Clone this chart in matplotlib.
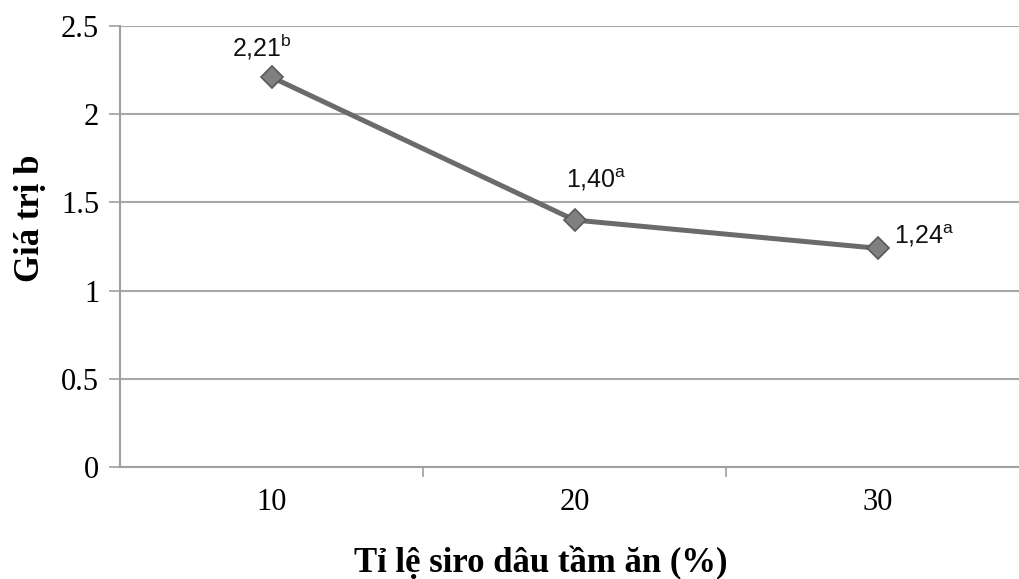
import matplotlib
matplotlib.use("Agg")
import matplotlib.pyplot as plt
from matplotlib.ticker import FixedLocator

categories = ["10", "20", "30"]
values = [2.21, 1.40, 1.24]
point_labels = ["2,21", "1,40", "1,24"]
letters = ["b", "a", "a"]
yticks = [0, 0.5, 1, 1.5, 2, 2.5]
ytick_labels = ["0", "0.5", "1", "1.5", "2", "2.5"]

plt.rcParams['mathtext.fontset'] = 'custom'
plt.rcParams['mathtext.rm'] = 'Liberation Sans'

fig = plt.figure(figsize=(10.19, 5.79), dpi=100)
ax = fig.add_axes([120/1019, 112/579, 909/1019, 441/579])

x = list(range(len(categories)))
ax.plot(x, values, color='#6b6b6b', lw=3.6, marker='D', markersize=11,
        markerfacecolor='#808080', markeredgecolor='#5a5a5a', markeredgewidth=1.2,
        zorder=3)

ax.set_xlim(-0.5, 2.5)
ax.set_ylim(0, 2.5)
ax.set_yticks(yticks)
ax.set_yticklabels(ytick_labels)
ax.set_xticks(x)
ax.set_xticklabels(categories)
ax.xaxis.set_minor_locator(FixedLocator([0.5, 1.5]))

for lab in ax.get_xticklabels() + ax.get_yticklabels():
    lab.set_fontfamily('Liberation Serif')
    lab.set_fontsize(22)
    lab.set_color('black')

ax.tick_params(axis='x', which='major', length=0, pad=15)
ax.tick_params(axis='x', which='minor', length=7, width=1.2, color='#a0a0a0', direction='out')
ax.tick_params(axis='y', which='major', length=8, width=1.2, color='#a0a0a0', pad=7, direction='out')

ax.grid(axis='y', color='#a8a8a8', lw=1.5)
ax.set_axisbelow(True)
for s in ['top', 'right']:
    ax.spines[s].set_visible(False)
ax.spines['left'].set_color('#a0a0a0')
ax.spines['left'].set_linewidth(1.5)
ax.spines['bottom'].set_color('#a0a0a0')
ax.spines['bottom'].set_linewidth(1.5)

offsets = [(-40, 21), (-9, 33), (17, 5)]
for xi, v, t, l, off in zip(x, values, point_labels, letters, offsets):
    ax.annotate(t + r"$^{\mathrm{" + l + "}}$", (xi, v), xytext=off, textcoords='offset pixels',
                ha='left', va='baseline', fontsize=18, fontfamily='Liberation Sans', color='#111111')

fig.text(541/1019, 1 - 563/579, "Tỉ lệ siro dâu tầm ăn (%)", ha='center', va='center',
         fontsize=25, fontweight='bold', fontfamily='Liberation Serif')
fig.text(30/1019, 1 - 218/579, "Giá trị b", ha='center', va='center', rotation=90,
         fontsize=25, fontweight='bold', fontfamily='Liberation Serif')

fig.savefig("out.png", dpi=100)
